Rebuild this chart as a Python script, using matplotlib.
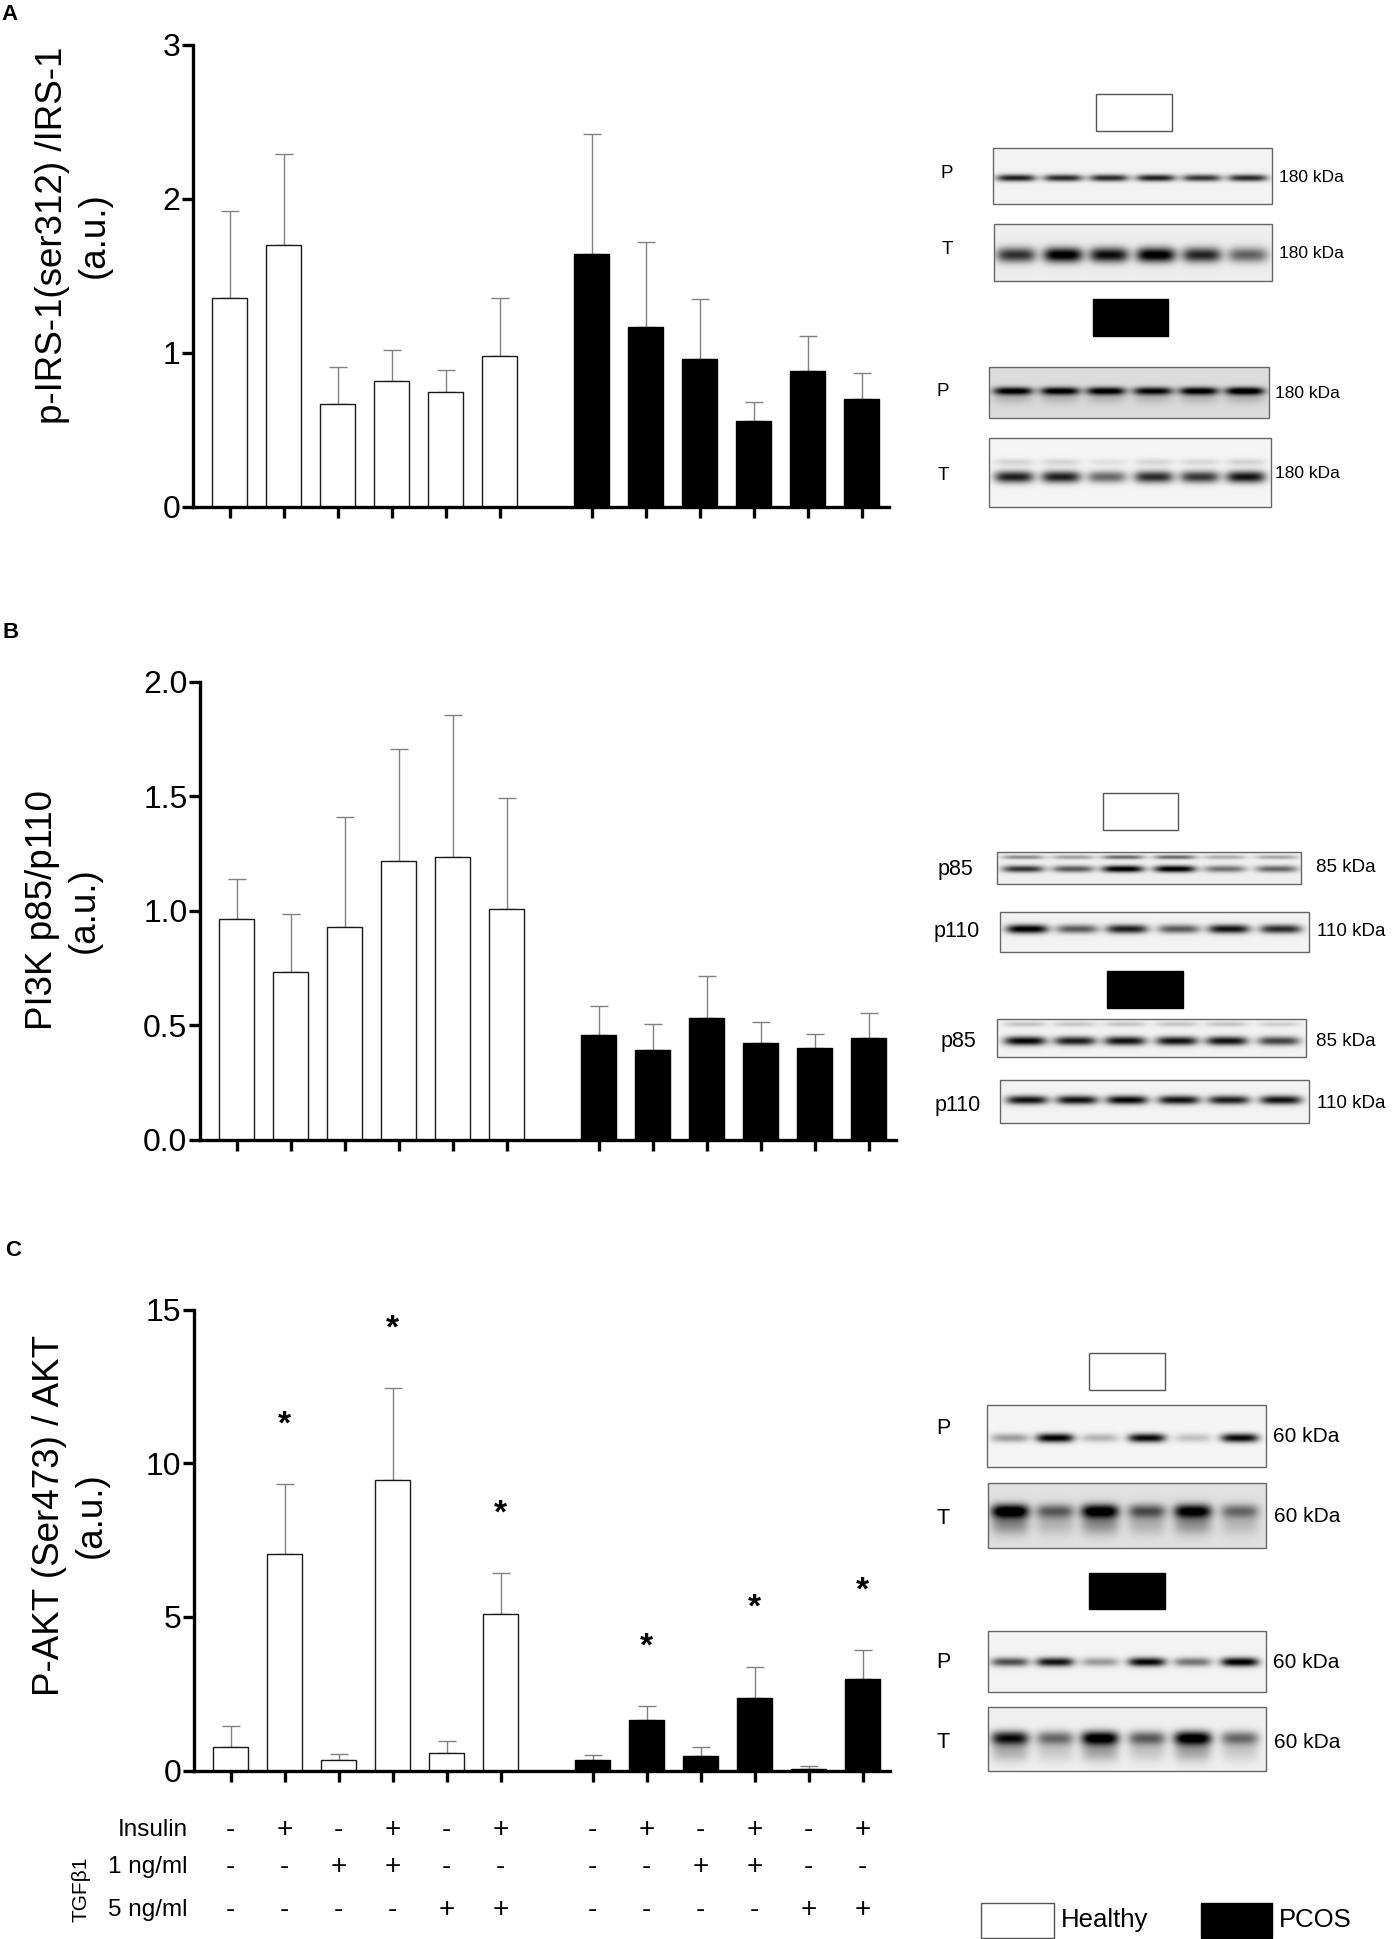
import numpy as np
import matplotlib
matplotlib.use('Agg')
import matplotlib.pyplot as plt
from matplotlib.patches import Rectangle
from matplotlib.transforms import blended_transform_factory

plt.rcParams['font.family'] = ['Liberation Sans', 'DejaVu Sans']

# ---- bar data (mean, SEM) ----
groups = ['Healthy', 'PCOS']
irs_healthy = [1.36, 1.70, 0.67, 0.82, 0.75, 0.98]
irs_healthy_sem = [0.56, 0.59, 0.24, 0.20, 0.14, 0.38]
irs_pcos = [1.64, 1.17, 0.96, 0.56, 0.88, 0.70]
irs_pcos_sem = [0.78, 0.55, 0.39, 0.12, 0.23, 0.17]

pi3k_healthy = [0.964, 0.732, 0.927, 1.217, 1.234, 1.008]
pi3k_healthy_sem = [0.175, 0.254, 0.482, 0.491, 0.619, 0.485]
pi3k_pcos = [0.457, 0.390, 0.531, 0.421, 0.398, 0.445]
pi3k_pcos_sem = [0.125, 0.114, 0.182, 0.092, 0.062, 0.106]

akt_healthy = [0.78, 7.06, 0.35, 9.47, 0.56, 5.10]
akt_healthy_sem = [0.68, 2.28, 0.18, 2.99, 0.42, 1.34]
akt_pcos = [0.34, 1.64, 0.47, 2.36, 0.07, 2.97]
akt_pcos_sem = [0.16, 0.47, 0.29, 1.00, 0.07, 0.96]
akt_sig_healthy = [False, True, False, True, False, True]
akt_sig_pcos = [False, True, False, True, False, True]

# treatment table
insulin = ['-', '+', '-', '+', '-', '+', '-', '+', '-', '+', '-', '+']
tgf_1ng = ['-', '-', '+', '+', '-', '-', '-', '-', '+', '+', '-', '-']
tgf_5ng = ['-', '-', '-', '-', '+', '+', '-', '-', '-', '-', '+', '+']

# ---- blot band intensities (0 = none, 1 = black), 6 lanes each ----
irs_p_healthy = [0.85, 0.80, 0.80, 0.85, 0.75, 0.80]
irs_t_healthy = [0.75, 1.00, 0.90, 1.00, 0.80, 0.55]
irs_p_pcos = [0.90, 0.90, 0.90, 0.85, 0.90, 0.95]
irs_t_pcos = [0.85, 0.85, 0.55, 0.80, 0.75, 0.90]
p85_healthy = [0.75, 0.60, 1.00, 1.00, 0.50, 0.55]
p110_healthy = [1.00, 0.60, 0.85, 0.60, 0.90, 0.80]
p85_pcos = [0.95, 0.85, 0.90, 0.90, 0.90, 0.70]
p110_pcos = [0.90, 0.90, 0.95, 0.90, 0.85, 0.90]
akt_p_healthy = [0.35, 1.00, 0.25, 0.95, 0.20, 0.95]
akt_t_healthy = [1.00, 0.50, 0.95, 0.55, 0.90, 0.45]
akt_p_pcos = [0.65, 0.90, 0.35, 0.95, 0.50, 1.00]
akt_t_pcos = [0.85, 0.50, 1.00, 0.55, 1.00, 0.50]

W, H = 1392, 1939
fig = plt.figure(figsize=(W / 100, H / 100), dpi=100)

x_h = np.arange(6)
x_p = np.arange(6) + 6.7
XL = (-0.68, 12.2)
UNIT = 54.0


def make_ax(left_px, top_px, bottom_px):
    w = (XL[1] - XL[0]) * UNIT
    return fig.add_axes([left_px / W, 1 - bottom_px / H, w / W, (bottom_px - top_px) / H])


def bars(ax, vals_h, sem_h, vals_p, sem_p, ymax, yticks, fmt):
    ax.bar(x_h, vals_h, width=0.65, color='white', edgecolor='#1a1a1a', linewidth=1.0, zorder=2)
    ax.bar(x_p, vals_p, width=0.65, color='black', edgecolor='black', linewidth=1.0, zorder=2)
    for xs, v, s in [(x_h, vals_h, sem_h), (x_p, vals_p, sem_p)]:
        ax.errorbar(xs, v, yerr=[np.zeros(len(v)), s], fmt='none', ecolor='#808080',
                    elinewidth=1.0, capsize=6.5, capthick=1.0, zorder=1)
    ax.set_xlim(*XL)
    ax.set_ylim(0, ymax)
    ax.set_yticks(yticks)
    ax.set_yticklabels([fmt.format(t) for t in yticks])
    ax.set_xticks(list(x_h) + list(x_p))
    for sp in ['top', 'right']:
        ax.spines[sp].set_visible(False)
    for sp in ['left', 'bottom']:
        ax.spines[sp].set_linewidth(2.4)
    ax.tick_params(axis='y', direction='out', length=8, width=2.4, labelsize=23, pad=1)
    ax.tick_params(axis='x', direction='out', length=8, width=2.4, labelbottom=False)


axA = make_ax(193, 45, 507)
bars(axA, irs_healthy, irs_healthy_sem, irs_pcos, irs_pcos_sem, 3, [0, 1, 2, 3], '{:.0f}')
axB = make_ax(200, 681.7, 1139.5)
bars(axB, pi3k_healthy, pi3k_healthy_sem, pi3k_pcos, pi3k_pcos_sem, 2.0, [0, 0.5, 1.0, 1.5, 2.0], '{:.1f}')
axC = make_ax(194, 1309.6, 1770.7)
bars(axC, akt_healthy, akt_healthy_sem, akt_pcos, akt_pcos_sem, 15, [0, 5, 10, 15], '{:.0f}')

# significance stars
for xs, v, s, sig in [(x_h, akt_healthy, akt_healthy_sem, akt_sig_healthy),
                      (x_p, akt_pcos, akt_pcos_sem, akt_sig_pcos)]:
    for xi, vi, si, g in zip(xs, v, s, sig):
        if g:
            axC.annotate('*', xy=(xi, vi + si + 2.25), xytext=(0, -13.5), textcoords='offset points',
                         ha='center', va='baseline', fontsize=24, fontweight='bold')

# overlay in pixel coordinates
ov = fig.add_axes([0, 0, 1, 1])
ov.patch.set_visible(False)
ov.set_axis_off()


def blot(x0, y0, x1, y1, lanes, band_y, sigma, levels, bg=0.05, tail=0.0, upper=None):
    nx, ny = int(x1 - x0) * 2, int(y1 - y0) * 2
    X, Y = np.meshgrid(np.linspace(x0, x1, nx), np.linspace(y0, y1, ny))
    hw = 0.42 * (lanes[1] - lanes[0])
    img = np.full(X.shape, bg)
    for xc, lv in zip(lanes, levels):
        hprof = np.exp(-((X - xc) / hw) ** 4)
        img += lv * hprof * np.exp(-((Y - band_y) / sigma) ** 2)
        if tail:
            img += tail * lv * hprof * np.exp(-((Y - band_y - 1.8 * sigma) / (1.6 * sigma)) ** 2)
        if upper is not None:
            img += upper[1] * lv * hprof * np.exp(-((Y - upper[0]) / (0.6 * sigma)) ** 2)
    img = np.clip(img, 0, 1)
    ov.imshow(img, cmap='gray_r', vmin=0, vmax=1, extent=(x0, x1, y1, y0),
              interpolation='bilinear', aspect='auto', zorder=2)
    ov.add_patch(Rectangle((x0, y0), x1 - x0, y1 - y0, fill=False, edgecolor='#666666',
                           linewidth=1.0, zorder=3))


def group_box(x0, y0, w, h, filled):
    ov.add_patch(Rectangle((x0, y0), w, h, facecolor='black' if filled else 'white',
                           edgecolor='#555555' if not filled else 'black', linewidth=1.0, zorder=3))


# panel A blots
lanesA = [1016, 1063, 1109, 1156, 1202, 1248]
group_box(1096, 94, 76, 37, False)
blot(993, 148, 1272, 204, lanesA, 178, 3.5, irs_p_healthy, bg=0.05)
blot(994, 224, 1272, 281, lanesA, 255, 7.5, irs_t_healthy, bg=0.07)
group_box(1093, 299, 75, 37, True)
blot(989, 367, 1269, 418, [x - 3 for x in lanesA], 391, 4.0, irs_p_pcos, bg=0.14, tail=0.15)
blot(989, 438, 1271, 507, [x - 2 for x in lanesA], 477, 6.0, irs_t_pcos, bg=0.04, upper=(462, 0.15))
for lab, x, y in [('P', 947, 173), ('T', 947, 250), ('P', 943, 392), ('T', 943, 475)]:
    ov.text(x, y, lab, ha='center', va='center', fontsize=13.5)
for x, y in [(1279, 177), (1279, 253), (1275, 394), (1275, 474)]:
    ov.text(x, y, '180 kDa', ha='left', va='center', fontsize=12.5)

# panel B blots
lanesB = [1023, 1073, 1123, 1175, 1225, 1277]
group_box(1103, 793, 75, 37, False)
blot(997, 852, 1301, 884, lanesB, 869, 3.5, p85_healthy, bg=0.06, upper=(857, 0.55))
blot(1000, 912, 1309, 952, [x + 4 for x in lanesB], 929, 4.5, p110_healthy, bg=0.05)
group_box(1107, 971, 76, 37, True)
blot(997, 1019, 1306, 1057, [x + 2 for x in lanesB], 1041, 4.5, p85_pcos, bg=0.05, upper=(1024, 0.2))
blot(1000, 1080, 1309, 1123, [x + 4 for x in lanesB], 1100, 4.5, p110_pcos, bg=0.05)
for lab, x, y in [('p85', 955, 870), ('p110', 957, 931), ('p85', 958, 1041), ('p110', 958, 1105)]:
    ov.text(x, y, lab, ha='center', va='center', fontsize=15.5)
for lab, x, y in [('85 kDa', 1316, 868), ('110 kDa', 1317, 931), ('85 kDa', 1316, 1041), ('110 kDa', 1317, 1103)]:
    ov.text(x, y, lab, ha='left', va='center', fontsize=13.5)

# panel C blots
lanesC = [1010, 1055, 1100, 1147, 1193, 1240]
group_box(1089, 1353, 76, 37, False)
blot(987, 1405, 1266, 1467, lanesC, 1438, 4.5, akt_p_healthy, bg=0.04)
blot(988, 1483, 1266, 1548, lanesC, 1511, 7.0, akt_t_healthy, bg=0.12, tail=0.35)
group_box(1089, 1573, 76, 36, True)
blot(988, 1631, 1266, 1692, lanesC, 1662, 4.5, akt_p_pcos, bg=0.05)
blot(988, 1707, 1266, 1771, lanesC, 1738, 7.0, akt_t_pcos, bg=0.06, tail=0.3)
for lab, x, y in [('P', 943, 1429), ('T', 943, 1518), ('P', 943, 1662), ('T', 943, 1742)]:
    ov.text(x, y, lab, ha='center', va='center', fontsize=15.5)
for x, y in [(1273, 1437), (1274, 1517), (1273, 1662), (1274, 1742)]:
    ov.text(x, y, '60 kDa', ha='left', va='center', fontsize=15)

# y labels and panel letters
ylab_kw = dict(rotation=90, ha='center', va='center', fontsize=26.5, linespacing=1.25, multialignment='center')
ov.text(73, 235, 'p-IRS-1(ser312) /IRS-1\n(a.u.)', **ylab_kw)
ov.text(63, 910, 'PI3K p85/p110\n(a.u.)', **ylab_kw)
ov.text(70, 1515, 'P-AKT (Ser473) / AKT\n(a.u.)', **ylab_kw)
for lab, x, y in [('A', 10, 15), ('B', 11, 633), ('C', 13, 1251)]:
    ov.text(x, y, lab, ha='center', va='center', fontsize=16, fontweight='bold')

# treatment table under panel C
tr = blended_transform_factory(axC.transData, ov.transData)
for name, signs, y in [('Insulin', insulin, 1830), ('1 ng/ml', tgf_1ng, 1867), ('5 ng/ml', tgf_5ng, 1910)]:
    ov.text(188, y, name, ha='right', va='center', fontsize=17.5)
    for xi, s in zip(list(x_h) + list(x_p), signs):
        axC.text(xi, y, s, transform=tr, ha='center', va='center', fontsize=20, clip_on=False)
ov.text(81, 1889, 'TGF\u03b21', rotation=90, ha='center', va='center', fontsize=15)

# legend
group_box(981, 1903, 73, 35, False)
ov.text(1061, 1920, 'Healthy', ha='left', va='center', fontsize=18.5)
group_box(1201, 1903, 71, 35, True)
ov.text(1279, 1920, 'PCOS', ha='left', va='center', fontsize=18.5)

ov.set_xlim(0, W)
ov.set_ylim(H, 0)

fig.savefig('out.png', dpi=100)
